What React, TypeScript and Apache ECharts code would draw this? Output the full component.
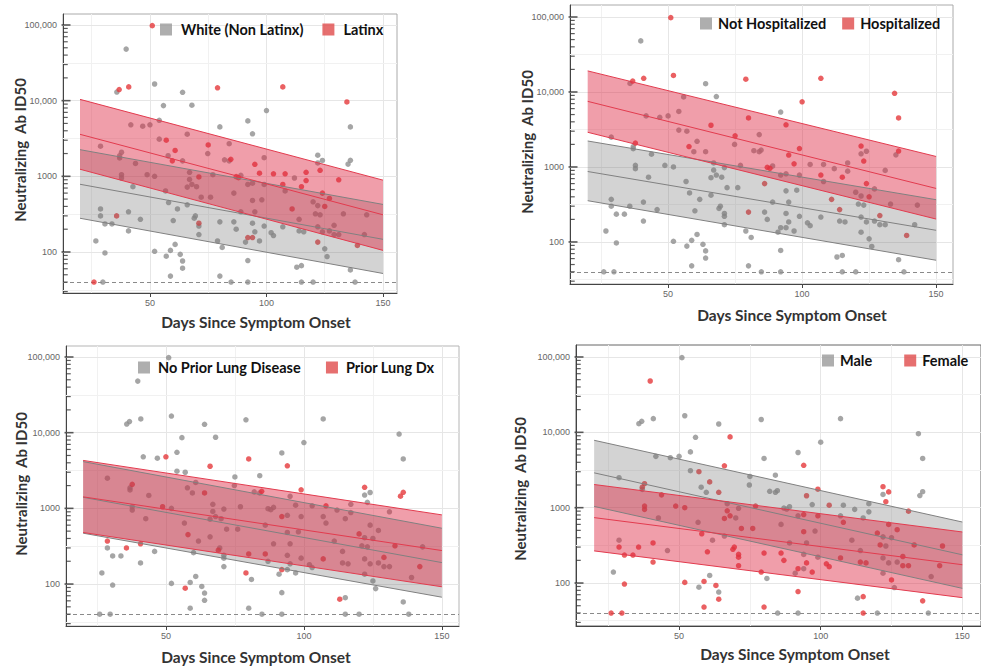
import React, { useEffect, useRef } from "react";
import * as echarts from "echarts";

// ---- shared patient data (same patients in all four panels) ----
const days = [
  51, 52, 40.9, 36.8, 35.8, 79, 107, 134.5, 100, 136, 80, 94, 66, 75, 37.8, 57.8, 99, 122, 136, 95,
  123, 97, 87, 88, 107, 115, 86, 124, 125, 111, 114, 80, 129, 139, 39.8, 64, 68, 55.8, 92, 41.8,
  46.9, 50, 54, 54, 57, 84, 28.8, 60.8, 74.8, 37, 37, 43.8, 59.6, 64, 82, 84, 84.7, 135, 122, 124,
  117, 131, 37.8, 37.8, 48.8, 52, 67, 67, 77, 71, 68, 66, 70, 42.7, 56.7, 58, 61.8, 60, 66, 69,
  69.5, 71, 71, 71, 72, 76, 92, 94, 99, 89, 103, 108, 112, 108, 94, 98, 95, 89, 94, 86,
  87, 95, 92, 94, 97, 91, 99, 102, 103, 107, 114, 116, 117, 120, 122, 123, 121, 122, 122, 124,
  125, 126, 127, 127, 129, 131, 133, 143, 142, 136, 113, 115, 92, 80, 79, 81, 58.8, 57, 58.8, 60.8,
  52, 63, 64, 64, 30.7, 26.8, 30.7, 33.7, 28.8, 28.8, 35.7, 40.8, 40.8, 45.9, 26, 29.8, 84.8, 92, 115, 120,
  138,
];
const titers = [
  98000, 16600, 15200, 14000, 13000, 14800, 15200, 9600, 7400, 4500, 4500, 3650, 3600, 2600, 2080, 1870, 1760, 1900, 1630, 1440,
  1200, 1100, 990, 960, 780, 730, 600, 600, 400, 370, 270, 250, 225, 122, 48000, 12900, 8700, 8600, 5400, 4800,
  4600, 4800, 5500, 3100, 3000, 2700, 2500, 2200, 2000, 1870, 1750, 1480, 1600, 1600, 1650, 1600, 1680, 1450, 1500, 1620,
  1130, 900, 1050, 950, 1050, 1000, 1130, 910, 1050, 980, 780, 720, 730, 730, 640, 450, 370, 260, 420, 280,
  300, 240, 220, 170, 530, 530, 780, 810, 780, 1030, 1080, 1080, 950, 640, 480, 490, 340, 340, 240, 250,
  200, 185, 155, 155, 140, 135, 220, 180, 165, 215, 190, 185, 880, 460, 410, 310, 320, 215, 135, 185,
  110, 87, 510, 190, 170, 170, 320, 310, 170, 58, 63, 66, 77, 48, 140, 115, 48, 88, 105, 126,
  102, 93, 76, 61, 97, 140, 235, 235, 370, 300, 300, 340, 190, 270, 40, 40, 40, 40, 40, 40,
  40,
];
// group membership (1 = red group)
const isLatinx = [
  1, 0, 1, 1, 0, 1, 1, 1, 0, 0, 0, 0, 0, 1, 0, 0, 0, 0, 0, 1,
  1, 1, 1, 1, 1, 1, 0, 1, 1, 1, 0, 0, 0, 1, 0, 0, 0, 0, 0, 0,
  0, 0, 0, 0, 1, 0, 0, 1, 0, 0, 0, 0, 1, 0, 0, 0, 1, 0, 0, 0,
  1, 1, 0, 0, 0, 0, 0, 0, 0, 1, 0, 0, 0, 0, 0, 0, 0, 0, 0, 0,
  0, 1, 0, 0, 0, 0, 0, 0, 0, 0, 1, 1, 0, 0, 0, 0, 0, 0, 0, 0,
  0, 0, 1, 1, 0, 0, 0, 0, 0, 0, 0, 0, 1, 0, 0, 0, 0, 0, 1, 0,
  0, 0, 1, 0, 0, 0, 0, 0, 0, 0, 0, 0, 0, 0, 0, 0, 0, 0, 0, 0,
  0, 0, 0, 0, 0, 0, 0, 0, 0, 0, 1, 0, 0, 0, 1, 0, 0, 0, 0, 0,
  0,
];
const isHospitalized = [
  1, 1, 1, 1, 0, 1, 1, 1, 1, 1, 1, 1, 1, 1, 1, 1, 1, 1, 1, 1,
  1, 1, 1, 1, 1, 1, 1, 1, 1, 1, 1, 1, 1, 1, 0, 0, 0, 0, 0, 0,
  0, 0, 0, 0, 0, 0, 0, 0, 0, 0, 0, 0, 0, 0, 0, 0, 0, 0, 0, 0,
  0, 0, 0, 0, 0, 0, 0, 0, 0, 0, 0, 0, 0, 0, 0, 0, 0, 0, 0, 0,
  0, 0, 0, 0, 0, 0, 0, 0, 0, 0, 0, 0, 0, 0, 0, 0, 0, 0, 0, 0,
  0, 0, 0, 0, 0, 0, 0, 0, 0, 0, 0, 0, 0, 0, 0, 0, 0, 0, 0, 0,
  0, 0, 0, 0, 0, 0, 0, 0, 0, 0, 0, 0, 0, 0, 0, 0, 0, 0, 0, 0,
  0, 0, 0, 0, 0, 0, 0, 0, 0, 0, 0, 0, 0, 0, 0, 0, 0, 0, 0, 0,
  0,
];
const isPriorLung = [
  0, 0, 0, 0, 0, 0, 0, 0, 0, 0, 1, 1, 1, 0, 1, 0, 1, 1, 1, 0,
  0, 0, 0, 0, 0, 0, 0, 0, 0, 0, 0, 1, 1, 0, 0, 0, 0, 0, 0, 0,
  0, 1, 0, 0, 0, 0, 0, 0, 0, 0, 0, 0, 0, 1, 0, 0, 1, 1, 0, 0,
  0, 0, 0, 0, 1, 0, 0, 0, 0, 0, 0, 0, 0, 0, 0, 1, 0, 0, 0, 1,
  0, 0, 0, 0, 0, 0, 1, 0, 0, 0, 0, 1, 0, 0, 0, 0, 0, 0, 0, 1,
  0, 0, 1, 0, 0, 0, 0, 0, 0, 1, 0, 0, 0, 1, 0, 0, 0, 0, 0, 0,
  0, 0, 0, 0, 0, 0, 1, 0, 1, 0, 1, 0, 0, 0, 1, 0, 0, 1, 0, 0,
  0, 0, 0, 0, 0, 0, 0, 0, 1, 0, 1, 1, 0, 0, 0, 0, 0, 0, 0, 0,
  0,
];
const isFemale = [
  0, 0, 0, 0, 0, 0, 0, 0, 0, 0, 0, 1, 1, 0, 1, 0, 1, 1, 0, 1,
  1, 0, 0, 0, 0, 0, 0, 1, 0, 0, 0, 1, 1, 0, 1, 0, 1, 0, 0, 0,
  0, 0, 0, 0, 1, 0, 0, 1, 0, 1, 0, 1, 0, 1, 0, 0, 0, 0, 0, 1,
  0, 1, 1, 1, 1, 1, 0, 1, 1, 0, 1, 1, 0, 0, 0, 1, 0, 1, 0, 1,
  1, 1, 1, 1, 1, 1, 0, 1, 1, 0, 1, 0, 0, 1, 1, 0, 0, 0, 0, 1,
  1, 1, 1, 0, 1, 0, 0, 1, 1, 1, 1, 1, 0, 1, 0, 0, 1, 0, 0, 0,
  1, 0, 1, 0, 1, 1, 1, 1, 1, 1, 0, 1, 1, 1, 1, 0, 1, 0, 1, 0,
  1, 1, 0, 1, 1, 0, 1, 1, 0, 1, 1, 1, 1, 0, 1, 1, 0, 0, 1, 0,
  0,
];

// ---- regression fits with confidence bands, at day 20 and day 150 ----
const fitDays = [20, 150];
const raceGrayLo = [279, 52], raceGrayFit = [785, 147], raceGrayHi = [2250, 425];
const raceRedLo = [1240, 105], raceRedFit = [3590, 310], raceRedHi = [10400, 890];
const hospGrayLo = [355, 57], hospGrayFit = [870, 143], hospGrayHi = [2220, 366];
const hospRedLo = [2900, 202], hospRedFit = [7500, 517], hospRedHi = [19100, 1380];
const lungGrayLo = [470, 67], lungGrayFit = [1400, 192], lungGrayHi = [4150, 546];
const lungRedLo = [480, 92], lungRedFit = [1420, 277], lungRedHi = [4300, 820];
const sexGrayLo = [1040, 85], sexGrayFit = [2900, 237], sexGrayHi = [7840, 645];
const sexRedLo = [267, 64], sexRedFit = [738, 175], sexRedHi = [2030, 476];

const limitOfDetection = 40;
const xTickValues = [50, 100, 150];
const xGridValues = [25, 50, 75, 100, 125, 150];
const yGridMajor = [100, 1000, 10000, 100000];
const yGridMinor = [31.62, 316.2, 3162, 31623];
const logTickMajor = [100, 1000, 10000, 100000];
const logTickMinor = [
  30, 40, 50, 60, 70, 80, 90,
  200, 300, 400, 500, 600, 700, 800, 900,
  2000, 3000, 4000, 5000, 6000, 7000, 8000, 9000,
  20000, 30000, 40000, 50000, 60000, 70000, 80000, 90000,
];

const groupNames = [
  ["White (Non Latinx)", "Latinx"],
  ["Not Hospitalized", "Hospitalized"],
  ["No Prior Lung Disease", "Prior Lung Dx"],
  ["Male", "Female"],
];
const groupFlags = [isLatinx, isHospitalized, isPriorLung, isFemale];
const fits = [
  { gray: [raceGrayLo, raceGrayFit, raceGrayHi], red: [raceRedLo, raceRedFit, raceRedHi] },
  { gray: [hospGrayLo, hospGrayFit, hospGrayHi], red: [hospRedLo, hospRedFit, hospRedHi] },
  { gray: [lungGrayLo, lungGrayFit, lungGrayHi], red: [lungRedLo, lungRedFit, lungRedHi] },
  { gray: [sexGrayLo, sexGrayFit, sexGrayHi], red: [sexRedLo, sexRedFit, sexRedHi] },
];

// ---- layout ----
const layout = [
  { grid: { left: 63, top: 14, width: 334, height: 279 }, x: [12.7, 156], y: [28.7, 139700], border: "#aaaaaa",
    legend: { left: 160, top: 22, gap: 19, pad: 4 }, yTitle: [20, 150], xTitle: [256, 322] },
  { grid: { left: 570, top: 5, width: 383, height: 279 }, x: [13.4, 156.3], y: [27.5, 144500], border: "#aaaaaa",
    legend: { left: 700, top: 16, gap: 16, pad: 1 }, yTitle: [527, 142], xTitle: [792, 315] },
  { grid: { left: 66, top: 346, width: 393, height: 280 }, x: [13.8, 156.2], y: [27.9, 139700], border: "#b5b5b5",
    legend: { left: 138, top: 360, gap: 25, pad: 3 }, yTitle: [21, 484], xTitle: [256, 657] },
  { grid: { left: 576, top: 345, width: 409, height: 281 }, x: [13.6, 156.6], y: [26.9, 144200], border: "#666666",
    legend: { left: 822, top: 353, gap: 32, pad: 1 }, yTitle: [520, 489], xTitle: [795, 654] },
];

const GRAY_PT = "#8e8e8e";
const RED_PT = "#e5383b";
const GRAY_FILL = "rgba(110,110,110,0.30)";
const RED_FILL = "rgba(222,40,66,0.45)";
const GRAY_LINE = "#808080";
const RED_LINE = "#e23b4e";
const FONT = "Lato, 'Open Sans', sans-serif";

function fmtY(v: number) {
  const l = Math.log10(v);
  if (Math.abs(l - Math.round(l)) > 1e-6) return "";
  const r = Math.round(v);
  return r >= 10000 ? r.toLocaleString("en-US") : String(r);
}

function bandSeries(i: number, lo: number[], hi: number[], fill: string) {
  return {
    type: "custom",
    xAxisIndex: i,
    yAxisIndex: i,
    silent: true,
    z: 3,
    data: fitDays.map((d, k) => [d, lo[k], hi[k]]),
    encode: { x: 0, y: [1, 2] },
    renderItem: (params: any, api: any) => {
      if (params.dataIndex !== 0) return null;
      const top = fitDays.map((d, k) => api.coord([d, hi[k]]));
      const bot = fitDays.map((d, k) => api.coord([d, lo[k]])).reverse();
      return { type: "polygon", shape: { points: top.concat(bot) }, style: { fill } };
    },
  };
}

function lineSeries(i: number, vals: number[], color: string) {
  return {
    type: "line",
    xAxisIndex: i,
    yAxisIndex: i,
    silent: true,
    z: 4,
    symbol: "none",
    showSymbol: false,
    data: fitDays.map((d, k) => [d, vals[k]]),
    lineStyle: { width: 1, color },
  };
}

function buildOption() {
  const grid: any[] = [];
  const xAxis: any[] = [];
  const yAxis: any[] = [];
  const series: any[] = [];
  const legend: any[] = [];
  const graphic: any[] = [];

  layout.forEach((L, i) => {
    grid.push({ ...L.grid, show: true, borderColor: L.border, borderWidth: 1, containLabel: false });
    xAxis.push({
      gridIndex: i, type: "value", min: L.x[0], max: L.x[1],
      axisLine: { show: true, onZero: false, lineStyle: { color: "#444", width: 1 } },
      axisTick: { show: true, customValues: xTickValues, length: 4, lineStyle: { color: "#444" } },
      axisLabel: { customValues: xTickValues, fontSize: 9, color: "#666", margin: 5, fontFamily: "Liberation Sans, sans-serif" },
      splitLine: { show: false },
    });
    yAxis.push({
      gridIndex: i, type: "log", logBase: 10, min: L.y[0], max: L.y[1],
      axisLine: { show: true, onZero: false, lineStyle: { color: "#444", width: 1 } },
      axisTick: { show: false },
      axisLabel: { formatter: fmtY, fontSize: 9, color: "#666", margin: 6, fontFamily: "Liberation Sans, sans-serif" },
      splitLine: { show: false },
    });

    const flags = groupFlags[i];
    const grayPts: number[][] = [];
    const redPts: number[][] = [];
    days.forEach((d, k) => (flags[k] ? redPts : grayPts).push([d, titers[k]]));

    const gridLines = [
      ...xGridValues.map((v) => ({ xAxis: v, lineStyle: { color: v % 50 === 0 ? "#e6e6e6" : "#f1f1f1", width: 1, type: "solid" } })),
      ...yGridMajor.map((v) => ({ yAxis: v, lineStyle: { color: "#e6e6e6", width: 1, type: "solid" } })),
      ...yGridMinor.map((v) => ({ yAxis: v, lineStyle: { color: "#f1f1f1", width: 1, type: "solid" } })),
    ];

    series.push({
      type: "scatter", name: groupNames[i][0], xAxisIndex: i, yAxisIndex: i, z: 2,
      symbolSize: 5.5, itemStyle: { color: GRAY_PT }, data: grayPts, silent: true,
      markLine: { silent: true, z: 1, symbol: ["none", "none"], label: { show: false }, data: gridLines, animation: false },
    });
    series.push({
      type: "scatter", name: groupNames[i][1], xAxisIndex: i, yAxisIndex: i, z: 2,
      symbolSize: 5.5, itemStyle: { color: RED_PT }, data: redPts, silent: true,
      markLine: {
        silent: true, z: 1, symbol: ["none", "none"], label: { show: false }, animation: false,
        data: [{ yAxis: limitOfDetection, lineStyle: { color: "#8a8a8a", width: 1, type: [4, 3] } }],
      },
    });

    const f = fits[i];
    series.push(bandSeries(i, f.gray[0], f.gray[2], GRAY_FILL));
    series.push(bandSeries(i, f.red[0], f.red[2], RED_FILL));
    series.push(lineSeries(i, f.gray[0], GRAY_LINE));
    series.push(lineSeries(i, f.gray[1], GRAY_LINE));
    series.push(lineSeries(i, f.gray[2], GRAY_LINE));
    series.push(lineSeries(i, f.red[0], RED_LINE));
    series.push(lineSeries(i, f.red[1], RED_LINE));
    series.push(lineSeries(i, f.red[2], RED_LINE));

    // log ticks on the y axis
    series.push({
      type: "scatter", xAxisIndex: i, yAxisIndex: i, z: 6, silent: true, clip: false,
      symbol: "rect", symbolSize: [9, 1.6], symbolOffset: [3, 0], itemStyle: { color: "#333" },
      data: logTickMajor.map((v) => [L.x[0], v]),
    });
    series.push({
      type: "scatter", xAxisIndex: i, yAxisIndex: i, z: 6, silent: true, clip: false,
      symbol: "rect", symbolSize: [4.5, 1.2], symbolOffset: [2.5, 0], itemStyle: { color: "#333" },
      data: logTickMinor.filter((v) => v > L.y[0] && v < L.y[1]).map((v) => [L.x[0], v]),
    });

    legend.push({
      left: L.legend.left, top: L.legend.top, padding: 0, orient: "horizontal",
      icon: "rect", itemWidth: 12, itemHeight: 12, itemGap: L.legend.gap, selectedMode: false,
      textStyle: { fontFamily: FONT, fontWeight: "bold", fontSize: 14.5, color: "#111", padding: [0, 0, 0, L.legend.pad] },
      data: [
        { name: groupNames[i][0], itemStyle: { color: "#9a9a9a" } },
        { name: groupNames[i][1], itemStyle: { color: "#e04b4b" } },
      ],
    });

    graphic.push({
      type: "text", x: L.yTitle[0], y: L.yTitle[1], rotation: Math.PI / 2, silent: true,
      style: {
        text: "Neutralizing  Ab ID50", fontFamily: FONT, fontWeight: "bold", fontSize: 15, fill: "#333",
        align: "center", verticalAlign: "middle", textAlign: "center", textVerticalAlign: "middle",
      },
    });
    graphic.push({
      type: "text", x: L.xTitle[0], y: L.xTitle[1], silent: true,
      style: {
        text: "Days Since Symptom Onset", fontFamily: FONT, fontWeight: "bold", fontSize: 15.5, fill: "#333",
        align: "center", verticalAlign: "middle", textAlign: "center", textVerticalAlign: "middle",
      },
    });
  });

  return { animation: false, backgroundColor: "#ffffff", grid, xAxis, yAxis, series, legend, graphic };
}

export default function App() {
  const ref = useRef<HTMLDivElement>(null);
  useEffect(() => {
    if (!ref.current) return;
    const chart = echarts.init(ref.current, null, { renderer: "svg" });
    chart.setOption(buildOption() as any);
    return () => chart.dispose();
  }, []);
  return (
    <div
      ref={ref}
      style={{ position: "fixed", left: 0, top: 0, width: 981, height: 670, background: "#fff" }}
    />
  );
}
